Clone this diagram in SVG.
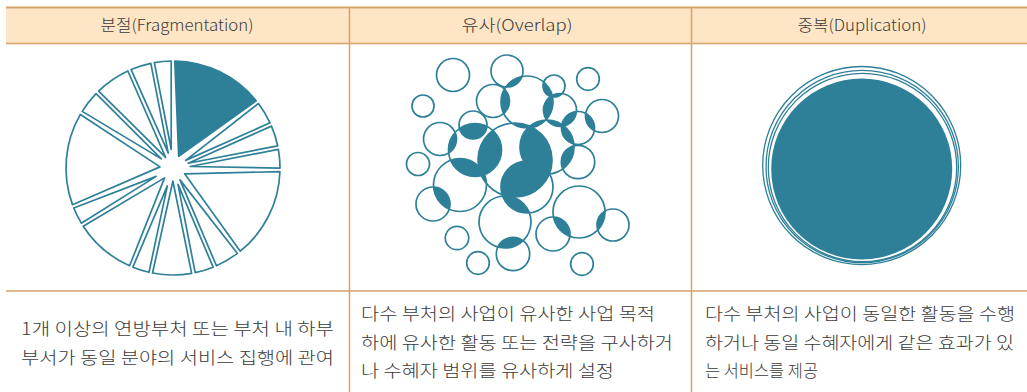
<svg xmlns="http://www.w3.org/2000/svg" width="1027" height="392" viewBox="0 0 1027 392">
<style>
.ln{stroke:#D6A268;fill:none}
.hd{font-family:"Noto Sans CJK KR","Noto Sans",sans-serif;font-size:16px;font-weight:300;fill:#3a3a3a;text-anchor:middle}
.bd{font-family:"Noto Sans CJK KR","Noto Sans",sans-serif;font-size:17px;font-weight:300;fill:#3a3a3a}
.sl{fill:#fff;stroke:#2E8099;stroke-width:1.7;stroke-linejoin:round}
.sf{fill:#2E8099;stroke:#2E8099;stroke-width:1.7;stroke-linejoin:round}
.oc{fill:none;stroke:#2E8099;stroke-width:1.7}
.f{fill:#2E8099}
.dc{fill:none;stroke:#2E8099;stroke-width:1.3}
</style>
<defs>
<clipPath id="k2"><circle cx="507" cy="71" r="16"/></clipPath>
<clipPath id="k3"><circle cx="554" cy="86" r="11"/></clipPath>
<clipPath id="k6"><circle cx="493" cy="101" r="16.5"/></clipPath>
<clipPath id="k7"><circle cx="527" cy="102" r="26"/></clipPath>
<clipPath id="k8"><circle cx="560" cy="110" r="16.5"/></clipPath>
<clipPath id="k9"><circle cx="602" cy="116" r="16.5"/></clipPath>
<clipPath id="k10"><circle cx="578" cy="128" r="16.5"/></clipPath>
<clipPath id="k11"><circle cx="473" cy="125" r="14"/></clipPath>
<clipPath id="k12"><circle cx="440" cy="139" r="16.5"/></clipPath>
<clipPath id="k14"><circle cx="475" cy="150" r="26.5"/></clipPath>
<clipPath id="kA"><circle cx="515" cy="160" r="37"/></clipPath>
<clipPath id="k16"><circle cx="547" cy="147" r="27"/></clipPath>
<clipPath id="k18"><circle cx="460" cy="185" r="26.5"/></clipPath>
<clipPath id="k20"><circle cx="527" cy="187" r="26"/></clipPath>
<clipPath id="k21"><circle cx="505" cy="222" r="26"/></clipPath>
<clipPath id="k22"><circle cx="579" cy="212" r="26"/></clipPath>
</defs>

<g id="table">
<rect x="6" y="8.5" width="1021" height="34.5" fill="#FDE5C5"/>
<line class="ln" x1="6" y1="7.5" x2="1027" y2="7.5" stroke-width="2"/>
<line class="ln" x1="6" y1="43.5" x2="1027" y2="43.5" stroke-width="1.5"/>
<line class="ln" x1="6" y1="291" x2="1027" y2="291" stroke-width="1.5"/>
<line class="ln" x1="349.5" y1="8" x2="349.5" y2="392" stroke-width="1.5"/>
<line class="ln" x1="691.5" y1="8" x2="691.5" y2="392" stroke-width="1.5"/>
</g>

<g id="headers">
<text class="hd" x="177" y="31" textLength="153" lengthAdjust="spacingAndGlyphs">분절(Fragmentation)</text>
<text class="hd" x="517" y="31" textLength="111" lengthAdjust="spacingAndGlyphs">유사(Overlap)</text>
<text class="hd" x="862" y="31" textLength="129" lengthAdjust="spacingAndGlyphs">중복(Duplication)</text>
</g>

<g id="fragmentation" transform="translate(173 168)">
<path class="sf" transform="rotate(-64)" d="M13,0 L96.94,-45.28 A107,107 0 0 1 96.94,45.28 Z"/>
<path class="sl" transform="rotate(-31)" d="M14.8,0 L106.41,-11.26 A107,107 0 0 1 106.41,11.26 Z"/>
<path class="sl" transform="rotate(-17.5)" d="M15.9,0 L106.5,-10.33 A107,107 0 0 1 106.5,10.33 Z"/>
<path class="sl" transform="rotate(-5)" d="M17.2,0 L106.59,-9.4 A107,107 0 0 1 106.59,9.4 Z"/>
<path class="sl" transform="rotate(26.5)" d="M13,0 L97.33,-44.44 A107,107 0 0 1 97.33,44.44 Z"/>
<path class="sl" transform="rotate(59.5)" d="M13.8,0 L106.3,-12.19 A107,107 0 0 1 106.3,12.19 Z"/>
<path class="sl" transform="rotate(73)" d="M17.2,0 L106.59,-9.4 A107,107 0 0 1 106.59,9.4 Z"/>
<path class="sl" transform="rotate(90.5)" d="M13,0 L105.19,-19.57 A107,107 0 0 1 105.19,19.57 Z"/>
<path class="sl" transform="rotate(107.5)" d="M18.8,0 L106.66,-8.47 A107,107 0 0 1 106.66,8.47 Z"/>
<path class="sl" transform="rotate(130.5)" d="M13,0 L102.57,-30.46 A107,107 0 0 1 102.57,30.46 Z"/>
<path class="sl" transform="rotate(153.5)" d="M18.8,0 L106.66,-8.47 A107,107 0 0 1 106.66,8.47 Z"/>
<path class="sl" transform="rotate(185)" d="M13,0 L96.94,-45.28 A107,107 0 0 1 96.94,45.28 Z"/>
<path class="sl" transform="rotate(218)" d="M14.8,0 L106.41,-11.26 A107,107 0 0 1 106.41,11.26 Z"/>
<path class="sl" transform="rotate(235.5)" d="M13,0 L105.52,-17.73 A107,107 0 0 1 105.52,17.73 Z"/>
<path class="sl" transform="rotate(252.5)" d="M15.9,0 L106.5,-10.33 A107,107 0 0 1 106.5,10.33 Z"/>
<path class="sl" transform="rotate(264.5)" d="M18.8,0 L106.66,-8.47 A107,107 0 0 1 106.66,8.47 Z"/>
</g>

<g id="overlap">
<g id="overlap-fills">
<g clip-path="url(#k2)"><circle class="f" cx="527" cy="102" r="26"/></g>
<g clip-path="url(#k3)"><circle class="f" cx="527" cy="102" r="26"/><circle class="f" cx="560" cy="110" r="16.5"/></g>
<g clip-path="url(#k6)"><circle class="f" cx="527" cy="102" r="26"/></g>
<g clip-path="url(#k7)"><circle class="f" cx="560" cy="110" r="16.5"/><circle class="f" cx="547" cy="147" r="27"/><circle class="f" cx="515" cy="160" r="37"/></g>
<g clip-path="url(#k8)"><circle class="f" cx="578" cy="128" r="16.5"/><circle class="f" cx="547" cy="147" r="27"/></g>
<g clip-path="url(#k9)"><circle class="f" cx="578" cy="128" r="16.5"/></g>
<g clip-path="url(#k10)"><circle class="f" cx="547" cy="147" r="27"/></g>
<g clip-path="url(#k11)"><circle class="f" cx="475" cy="150" r="26.5"/></g>
<g clip-path="url(#k12)"><circle class="f" cx="475" cy="150" r="26.5"/></g>
<g clip-path="url(#k14)"><circle class="f" cx="460" cy="185" r="26.5"/><circle class="f" cx="515" cy="160" r="37"/></g>
<g clip-path="url(#kA)"><circle class="f" cx="547" cy="147" r="27"/><circle class="f" cx="527" cy="187" r="26"/><circle class="f" cx="460" cy="185" r="26.5"/></g>
<g clip-path="url(#k16)"><circle class="f" cx="578" cy="162" r="16.7"/><circle class="f" cx="527" cy="187" r="26"/></g>
<g clip-path="url(#k18)"><circle class="f" cx="433" cy="204" r="17"/></g>
<g clip-path="url(#k20)"><circle class="f" cx="505" cy="222" r="26"/></g>
<g clip-path="url(#k21)"><circle class="f" cx="513" cy="254" r="16.7"/></g>
<g clip-path="url(#k22)"><circle class="f" cx="613" cy="225" r="16"/><circle class="f" cx="553" cy="234" r="17"/></g>
</g>
<g id="overlap-circles">
<circle class="oc" cx="453" cy="75" r="16.5"/>
<circle class="oc" cx="507" cy="71" r="16"/>
<circle class="oc" cx="554" cy="86" r="11"/>
<circle class="oc" cx="588" cy="79" r="11.3"/>
<circle class="oc" cx="423" cy="106" r="11"/>
<circle class="oc" cx="493" cy="101" r="16.5"/>
<circle class="oc" cx="527" cy="102" r="26"/>
<circle class="oc" cx="560" cy="110" r="16.5"/>
<circle class="oc" cx="602" cy="116" r="16.5"/>
<circle class="oc" cx="578" cy="128" r="16.5"/>
<circle class="oc" cx="473" cy="125" r="14"/>
<circle class="oc" cx="440" cy="139" r="16.5"/>
<circle class="oc" cx="418" cy="164" r="11.5"/>
<circle class="oc" cx="475" cy="150" r="26.5"/>
<circle class="oc" cx="515" cy="160" r="37"/>
<circle class="oc" cx="547" cy="147" r="27"/>
<circle class="oc" cx="578" cy="162" r="16.7"/>
<circle class="oc" cx="460" cy="185" r="26.5"/>
<circle class="oc" cx="433" cy="204" r="17"/>
<circle class="oc" cx="527" cy="187" r="26"/>
<circle class="oc" cx="505" cy="222" r="26"/>
<circle class="oc" cx="579" cy="212" r="26"/>
<circle class="oc" cx="613" cy="225" r="16"/>
<circle class="oc" cx="553" cy="234" r="17"/>
<circle class="oc" cx="457" cy="238" r="11.7"/>
<circle class="oc" cx="513" cy="254" r="16.7"/>
<circle class="oc" cx="478" cy="263" r="11.3"/>
<circle class="oc" cx="582" cy="264" r="11.3"/>
</g>
</g>

<g id="duplication">
<circle class="dc" cx="861.7" cy="165.5" r="99"/>
<circle class="dc" cx="862.2" cy="166.5" r="96.2"/>
<circle class="dc" cx="862.5" cy="167.5" r="94.2"/>
<circle cx="861.7" cy="169" r="90.5" fill="#2E8099"/>
</g>

<g id="descriptions">
<text class="bd" x="21" y="335" textLength="313" lengthAdjust="spacingAndGlyphs">1개 이상의 연방부처 또는 부처 내 하부</text>
<text class="bd" x="21" y="364" textLength="313" lengthAdjust="spacingAndGlyphs">부서가 동일 분야의 서비스 집행에 관여</text>
<text class="bd" x="361" y="320" textLength="294" lengthAdjust="spacingAndGlyphs">다수 부처의 사업이 유사한 사업 목적</text>
<text class="bd" x="361" y="349" textLength="312" lengthAdjust="spacingAndGlyphs">하에 유사한 활동 또는 전략을 구사하거</text>
<text class="bd" x="361" y="377" textLength="253" lengthAdjust="spacingAndGlyphs">나 수혜자 범위를 유사하게 설정</text>
<text class="bd" x="705" y="320" textLength="310" lengthAdjust="spacingAndGlyphs">다수 부처의 사업이 동일한 활동을 수행</text>
<text class="bd" x="705" y="349" textLength="309" lengthAdjust="spacingAndGlyphs">하거나 동일 수혜자에게 같은 효과가 있</text>
<text class="bd" x="705" y="377" textLength="113" lengthAdjust="spacingAndGlyphs">는 서비스를 제공</text>
</g>
</svg>
